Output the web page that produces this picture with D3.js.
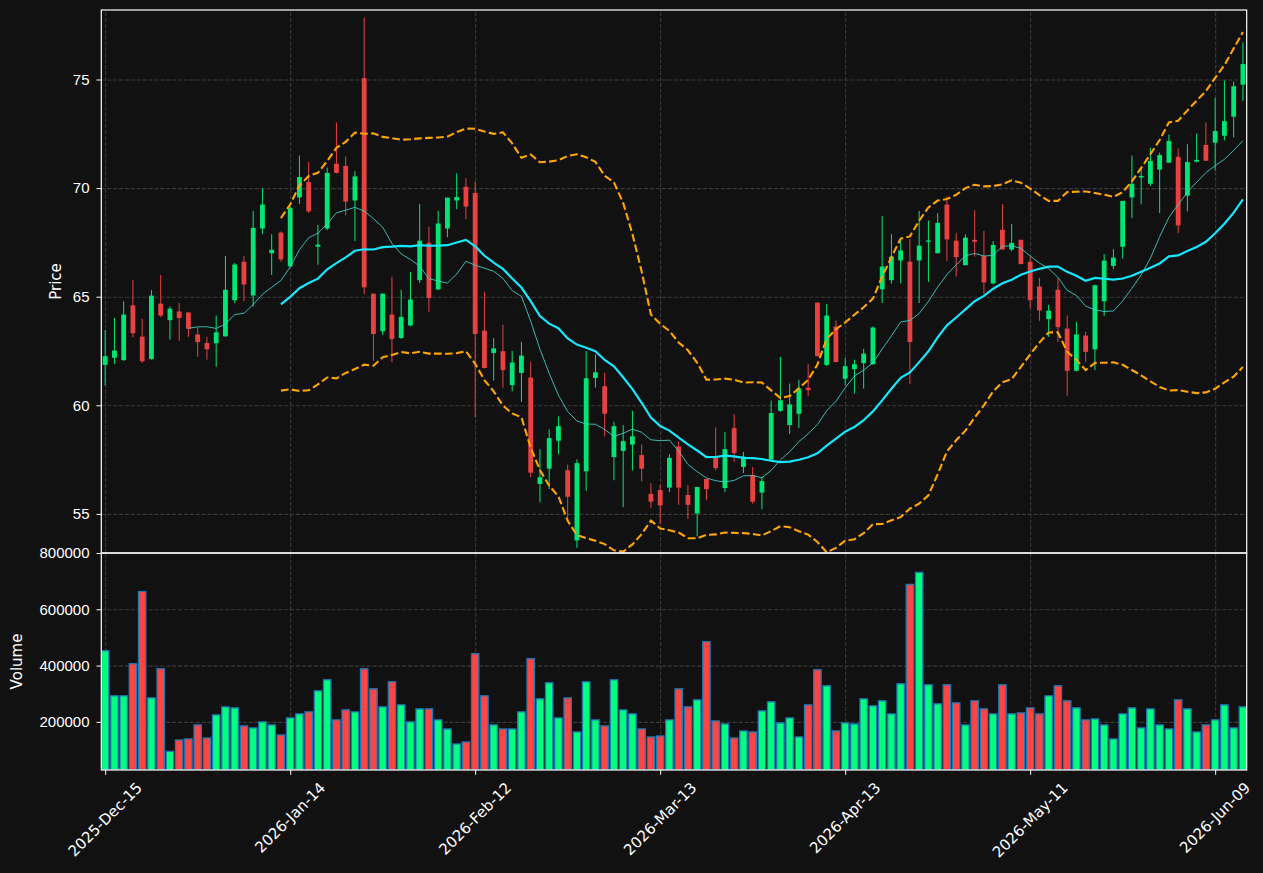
<!DOCTYPE html>
<meta charset="utf-8">
<style>
body{
  margin: 0;
  background: #111111;
}
svg{
  display: block;
  font-family: "DejaVu Sans", Verdana, sans-serif;
}
.tick text{
  fill: #ffffff;
  font-size: 15px;
}
.tick line{
  stroke: #ffffff;
}
.domain{
  display: none;
}
.grid line{
  stroke: #3a3a3a;
  stroke-width: 1.1;
  stroke-dasharray: 4.1,1.8;
}
.grid .domain, .grid text{
  display: none;
}
.spine{
  fill: none;
  stroke: #ffffff;
  stroke-width: 1.2;
}
</style>

<svg id="chart" width="1263" height="873"></svg>

<script src="https://cdn.jsdelivr.net/npm/d3@7"></script>
<script>
// daily bars, one per trading day from 2025-12-15
var opens = [61.86,62.19,62.08,64.60,63.16,62.13,64.68,63.92,64.32,64.27,63.26,62.87,62.86,63.18,64.84,66.61,65.06,68.14,67.00,67.95,
  66.40,69.57,70.28,67.30,68.14,71.12,71.02,69.43,75.06,65.14,63.41,64.18,63.10,63.68,65.76,67.48,65.34,68.14,69.43,70.06,
  69.78,63.44,62.41,62.49,60.93,61.49,61.28,56.38,57.08,58.37,57.01,53.78,56.96,61.26,60.88,57.62,57.90,58.19,57.71,55.92,
  56.10,56.21,58.11,55.87,55.02,56.61,57.59,56.19,58.95,57.16,56.79,55.98,57.50,59.75,59.09,59.61,60.81,64.73,61.86,63.63,
  61.22,61.67,61.94,61.89,65.34,65.76,66.67,66.61,66.67,67.53,67.00,69.24,67.58,66.45,67.62,66.87,65.61,68.08,67.17,67.62,
  66.61,65.47,63.97,65.32,63.53,61.59,63.21,62.58,64.79,66.42,67.30,69.57,70.49,70.20,70.85,71.17,71.44,69.65,71.22,71.99,
  72.09,72.41,73.29,74.76]
var highs = [63.47,64.03,64.79,65.77,63.98,65.31,66.00,64.55,64.71,64.30,63.58,63.15,64.13,66.87,66.55,66.87,68.95,69.98,67.88,68.00,
  69.15,71.50,71.20,68.30,70.95,73.02,71.46,70.78,77.85,65.14,65.14,65.92,65.32,66.14,69.27,68.22,68.95,69.56,70.68,70.46,
  70.31,65.23,63.10,63.71,62.50,62.92,62.00,57.98,58.90,59.49,57.27,57.51,62.50,62.34,61.50,59.24,59.09,59.75,58.20,56.42,
  56.35,57.75,58.32,56.32,56.24,56.61,58.98,58.78,59.59,57.85,57.16,56.71,60.22,62.23,61.00,61.18,61.91,64.73,64.66,63.90,
  62.18,62.10,62.60,63.63,68.72,67.88,67.62,67.66,68.95,68.51,68.85,69.62,67.93,67.87,68.98,68.03,67.56,69.27,68.35,67.62,
  66.85,65.87,64.63,65.84,64.13,63.84,63.39,65.56,66.96,67.19,69.41,71.50,70.93,71.86,71.63,72.47,71.83,72.02,72.52,73.02,
  74.15,74.95,74.90,76.71]
var lows = [60.92,61.90,62.05,63.13,61.95,62.10,64.06,63.02,62.97,63.15,62.23,62.10,61.78,63.15,64.71,64.79,64.55,67.88,66.00,66.61,
  66.35,69.27,68.86,66.47,68.06,70.67,68.75,67.56,65.13,62.05,63.23,61.99,63.05,63.63,65.63,64.31,65.30,67.74,69.03,68.57,
  59.44,61.70,61.14,60.81,60.64,60.16,56.69,55.53,56.14,57.74,54.69,53.44,56.06,60.81,58.56,56.55,55.31,57.00,56.50,55.26,
  54.53,56.00,55.42,54.77,53.97,55.63,57.00,56.00,57.40,56.88,55.47,55.21,57.50,59.70,58.67,58.96,60.43,62.26,61.81,61.99,
  60.94,60.54,60.77,61.86,64.71,65.60,65.61,60.97,64.71,65.68,67.00,66.64,65.93,66.45,66.84,65.13,65.60,67.17,67.09,66.50,
  64.45,63.89,63.15,62.92,60.44,61.59,62.00,61.62,64.11,66.27,66.76,68.62,69.25,70.10,68.85,71.17,67.93,68.93,71.18,71.26,
  70.81,72.20,72.34,74.02]
var closes = [62.26,62.52,64.18,63.32,62.03,65.05,64.13,64.45,64.02,63.52,62.91,62.58,63.36,65.32,66.48,65.56,68.17,69.24,67.16,66.72,
  69.09,70.51,68.93,67.40,70.70,70.70,69.38,70.54,65.43,63.28,65.14,63.05,64.07,64.87,67.58,64.94,68.37,69.56,69.59,69.15,
  63.28,61.72,62.62,61.62,61.97,62.29,56.90,56.69,58.49,59.04,55.79,57.34,61.25,61.52,59.61,59.04,58.35,58.57,57.08,55.56,
  55.39,57.58,56.21,55.42,56.24,56.14,57.11,57.98,57.80,57.64,55.56,56.51,59.64,60.23,60.04,60.78,60.70,62.26,64.13,61.99,
  61.80,61.89,62.38,63.58,66.39,66.84,67.13,62.91,67.35,67.59,68.40,67.64,66.82,67.72,67.53,65.66,67.38,67.17,67.48,66.50,
  64.84,64.37,64.36,63.60,61.59,63.26,62.46,65.52,66.66,66.80,69.41,70.20,70.56,71.25,71.52,72.17,68.28,71.20,71.30,71.26,
  72.63,73.08,74.69,75.71]
var volumes = [453000,292500,292500,406600,663300,285400,388800,95300,135700,139300,189200,142800,224800,253300,249800,185600,178500,199900,189200,153500,
  214100,228400,235500,310400,349600,207000,242600,235500,388800,317500,253300,342500,260500,199900,246200,246200,207000,174900,121400,128600,
  442300,292500,189200,174900,174900,235500,424500,281900,338900,214100,285400,164200,342500,207000,185600,349600,242600,228400,174900,146400,
  149900,207000,317500,253300,278300,485100,203400,192700,142800,167800,164200,239100,271200,196300,214100,146400,260500,385200,328200,167800,
  196300,192700,281900,256900,274700,228400,335300,688300,731100,331800,264000,331800,267600,189200,274700,246200,228400,331800,228400,231900,
  249800,228400,292500,328200,274700,249800,207000,210600,189200,139300,228400,249800,178500,246200,189200,174900,278300,246200,164200,189200,
  207000,260500,178500,253300]

var tickIdx = [0, 20, 40, 60, 80, 100, 120]
var tickLabels = ['2025-Dec-15', '2026-Jan-14', '2026-Feb-12', '2026-Mar-13', '2026-Apr-13', '2026-May-11', '2026-Jun-09']
var priceTicks = [55, 60, 65, 70, 75]
var volTicks = [200000, 400000, 600000, 800000]

var upColor = '#00e676', downColor = '#e84142'
var volUp = '#00ff7f', volDown = '#ff4444'

var left = 101.3, right = 1246.7
var priceTop = 10, priceBottom = 553, volBottom = 770

var n = closes.length
var idx = d3.range(n)

var x = d3.scaleLinear().domain([-0.42, n - 1 + 0.41]).range([left, right])
var y = d3.scaleLinear().domain([53.2, 78.2]).range([priceBottom, priceTop])
var yv = d3.scaleLinear().domain([29000, 800000]).range([volBottom, priceBottom])
var step = x(1) - x(0)

// rolling mean / population std of closes
function rolling(win, fn){
  return idx.map(function(i){
    if (i < win - 1) return null
    return fn(closes.slice(i - win + 1, i + 1))
  })
}
var ma10 = rolling(10, d3.mean)
var ma20 = rolling(20, d3.mean)
var sd20 = rolling(20, function(a){
  var m = d3.mean(a)
  return Math.sqrt(d3.mean(a, function(v){ return (v - m) * (v - m) }))
})
var upper = idx.map(function(i){ return ma20[i] == null ? null : ma20[i] + 2 * sd20[i] })
var lower = idx.map(function(i){ return ma20[i] == null ? null : ma20[i] - 2 * sd20[i] })

var svg = d3.select('#chart')
svg.append('rect').attr('width', 1263).attr('height', 873).attr('fill', '#111111')

svg.append('defs').selectAll('clipPath')
    .data([['clipP', priceTop, priceBottom], ['clipV', priceBottom, volBottom]])
  .enter().append('clipPath').attr('id', function(d){ return d[0] })
  .append('rect')
    .attr('x', left).attr('y', function(d){ return d[1] })
    .attr('width', right - left).attr('height', function(d){ return d[2] - d[1] })

// grids
function vgrid(top, bottom){
  svg.append('g').attr('class', 'grid')
      .attr('transform', 'translate(0,' + bottom + ')')
      .call(d3.axisBottom(x).tickValues(tickIdx).tickSize(-(bottom - top)).tickFormat(''))
}
vgrid(priceTop, priceBottom)
vgrid(priceBottom, volBottom)
svg.append('g').attr('class', 'grid')
    .attr('transform', 'translate(' + left + ',0)')
    .call(d3.axisLeft(y).tickValues(priceTicks).tickSize(-(right - left)).tickFormat(''))
svg.append('g').attr('class', 'grid')
    .attr('transform', 'translate(' + left + ',0)')
    .call(d3.axisLeft(yv).tickValues(volTicks).tickSize(-(right - left)).tickFormat(''))

// candles
var pricePlot = svg.append('g').attr('clip-path', 'url(#clipP)')
var candle = pricePlot.selectAll('.candle').data(idx).enter().append('g')
candle.append('line')
    .attr('x1', function(i){ return x(i) }).attr('x2', function(i){ return x(i) })
    .attr('y1', function(i){ return y(highs[i]) }).attr('y2', function(i){ return y(lows[i]) })
    .attr('stroke', function(i){ return closes[i] >= opens[i] ? upColor : downColor })
    .attr('stroke-width', 1)
candle.append('rect')
    .attr('x', function(i){ return x(i) - step * 0.26 })
    .attr('width', step * 0.52)
    .attr('y', function(i){ return y(Math.max(opens[i], closes[i])) })
    .attr('height', function(i){ return Math.max(1, Math.abs(y(opens[i]) - y(closes[i]))) })
    .attr('fill', function(i){ return closes[i] >= opens[i] ? upColor : downColor })

// indicator lines
var line = d3.line()
    .defined(function(d){ return d[1] != null })
    .x(function(d){ return x(d[0]) })
    .y(function(d){ return y(d[1]) })
function series(arr){ return idx.map(function(i){ return [i, arr[i]] }) }

pricePlot.append('path').datum(series(ma10))
    .attr('d', line).attr('fill', 'none')
    .attr('stroke', '#3ed6cc').attr('stroke-opacity', 0.85).attr('stroke-width', 1)
pricePlot.append('path').datum(series(ma20))
    .attr('d', line).attr('fill', 'none')
    .attr('stroke', '#14e8ff').attr('stroke-width', 2.2)
;[upper, lower].forEach(function(b){
  pricePlot.append('path').datum(series(b))
      .attr('d', line).attr('fill', 'none')
      .attr('stroke', '#ffa500').attr('stroke-width', 2.1)
      .attr('stroke-dasharray', '7.7,3.3')
})

// volume
svg.append('g').attr('clip-path', 'url(#clipV)')
  .selectAll('rect').data(idx).enter().append('rect')
    .attr('x', function(i){ return x(i) - step * 0.4 })
    .attr('width', step * 0.8)
    .attr('y', function(i){ return yv(volumes[i]) })
    .attr('height', function(i){ return volBottom - yv(volumes[i]) })
    .attr('fill', function(i){ return closes[i] >= opens[i] ? volUp : volDown })
    .attr('stroke', '#1f77b4').attr('stroke-width', 1.3)

// axes
svg.append('g')
    .attr('transform', 'translate(' + left + ',0)')
    .call(d3.axisLeft(y).tickValues(priceTicks).tickSize(4.8).tickPadding(7))
svg.append('g')
    .attr('transform', 'translate(' + left + ',0)')
    .call(d3.axisLeft(yv).tickValues(volTicks).tickSize(4.8).tickPadding(7).tickFormat(d3.format('d')))

var xAxis = svg.append('g')
    .attr('transform', 'translate(0,' + volBottom + ')')
    .call(d3.axisBottom(x).tickValues(tickIdx).tickSize(4.8).tickFormat(''))

// rotated date labels, centred under each tick like matplotlib's rotation=45
tickIdx.forEach(function(t, k){
  var txt = svg.append('text')
      .attr('fill', '#ffffff').attr('font-size', 15)
      .attr('text-anchor', 'middle').attr('dominant-baseline', 'central')
      .text(tickLabels[k])
  var w = txt.node().getComputedTextLength()
  var h = 17.5
  var box = (w + h) * Math.SQRT1_2
  txt.attr('transform', 'translate(' + x(t) + ',' + (volBottom + 9 + box / 2) + ') rotate(-45)')
})

// spines
svg.append('rect').attr('class', 'spine')
    .attr('x', left).attr('y', priceTop).attr('width', right - left).attr('height', priceBottom - priceTop)
svg.append('rect').attr('class', 'spine')
    .attr('x', left).attr('y', priceBottom).attr('width', right - left).attr('height', volBottom - priceBottom)

// axis titles
svg.append('text').attr('fill', '#ffffff').attr('font-size', 15)
    .attr('text-anchor', 'middle')
    .attr('transform', 'translate(61,' + (priceTop + priceBottom) / 2 + ') rotate(-90)')
    .text('Price')
svg.append('text').attr('fill', '#ffffff').attr('font-size', 15)
    .attr('text-anchor', 'middle')
    .attr('transform', 'translate(22,' + (priceBottom + volBottom) / 2 + ') rotate(-90)')
    .text('Volume')
</script>
